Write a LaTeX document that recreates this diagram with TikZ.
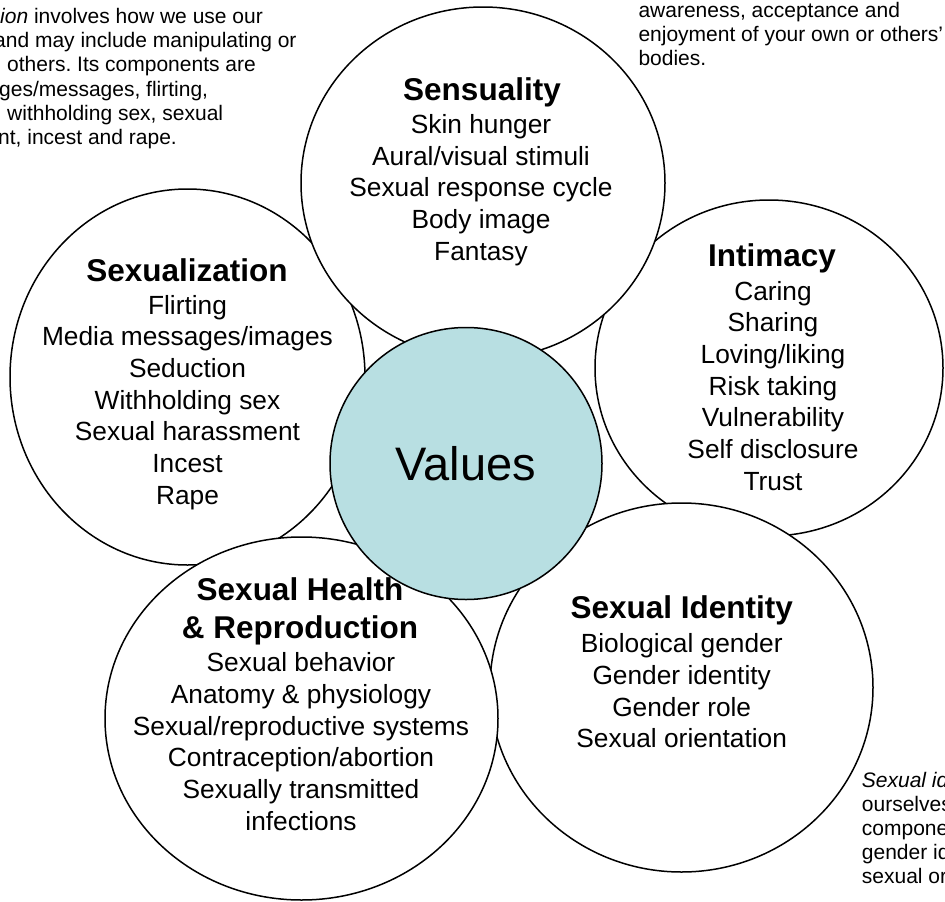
\documentclass[tikz,border=0pt]{standalone}
\usepackage{fontspec}
\setmainfont{Liberation Sans}
\usetikzlibrary{shapes.geometric}
\definecolor{valblue}{RGB}{184,223,226}
\frenchspacing
\begin{document}
\begin{tikzpicture}[x=1pt,y=-1pt,
  ring/.style={ellipse, draw=black, line width=1.5pt, fill=white, inner sep=0pt, outer sep=0pt},
  ttl/.style={font=\fontsize{31.5}{38}\selectfont\bfseries, align=center, anchor=base, inner sep=0pt},
  lst/.style={font=\fontsize{26.3}{31.7}\selectfont, align=center, anchor=base, inner sep=0pt},
  note/.style={font=\fontsize{21}{24.2}\selectfont\frenchspacing, anchor=base west, inner sep=0pt},
]
\useasboundingbox (0,0) rectangle (945,902);
\clip (0,0) rectangle (945,902);

% corner notes
\node[note] (tl1) at (0,23.5) {\textit{ion} involves how we use our};
\node[note] (tl2) at (-6,47.7) {and may include manipulating or};
\node[note] (tl3) at (7,71.9) {others. Its components are};
\node[note] (tl4) at (-1,96.1) {ges/messages, flirting,};
\node[note] (tl5) at (7,120.3) {withholding sex, sexual};
\node[note] (tl6) at (-2,144.5) {nt, incest and rape.};

\node[note] (tr1) at (638.3,17) {awareness, acceptance and};
\node[note] (tr2) at (638.3,41.2) {enjoyment of your own or others’};
\node[note] (tr3) at (638.3,65.4) {bodies.};

\node[note] (br1) at (861.7,787) {\textit{Sexual id}};
\node[note] (br2) at (861.7,811.2) {ourselves};
\node[note] (br3) at (861.7,835.4) {compone};
\node[note] (br4) at (861.7,859.6) {gender id};
\node[note] (br5) at (861.7,883.8) {sexual or};

% Intimacy
\node[ring, minimum width=348pt, minimum height=336pt] (intim) at (769,368) {};
\node[ttl] (intimT) at (772,266.7) {Intimacy};
\node[lst] (intimL) at (773,490.2) {Caring\\Sharing\\Loving/liking\\Risk taking\\Vulnerability\\Self disclosure\\Trust};

% Sexualization
\node[ring, minimum width=355pt, minimum height=376pt] (sexz) at (187.5,377) {};
\node[ttl] (sexzT) at (187,281.7) {Sexualization};
\node[lst] (sexzL) at (187.5,504.2) {Flirting\\Media messages/images\\Seduction\\Withholding sex\\Sexual harassment\\Incest\\Rape};

% Sensuality
\node[ring, minimum width=364pt, minimum height=352pt] (sens) at (483,183) {};
\node[ttl] (sensT) at (482,100) {Sensuality};
\node[lst] (sensL) at (481,260.1) {Skin hunger\\Aural/visual stimuli\\Sexual response cycle\\Body image\\Fantasy};

% Sexual Identity
\node[ring, minimum width=383pt, minimum height=369pt] (ident) at (681.5,687.5) {};
\node[ttl] (identT) at (681.7,618.3) {Sexual Identity};
\node[lst] (identL) at (681.7,747.8) {Biological gender\\Gender identity\\Gender role\\Sexual orientation};

% Sexual Health & Reproduction
\node[ring, minimum width=393pt, minimum height=363pt] (health) at (301.5,718.5) {};
\node[ttl] (healthT) at (300,638) {Sexual Health\\\& Reproduction};
\node[lst] (healthL) at (301,830.2) {Sexual behavior\\Anatomy \& physiology\\Sexual/reproductive systems\\Contraception/abortion\\Sexually transmitted\\infections};

% Values
\node[ring, fill=valblue, minimum width=272pt, minimum height=272pt] (values) at (466,463.5) {};
\node[font=\fontsize{47}{56}\selectfont, anchor=base, inner sep=0pt] (valT) at (466,480) {Values};
\end{tikzpicture}
\end{document}
